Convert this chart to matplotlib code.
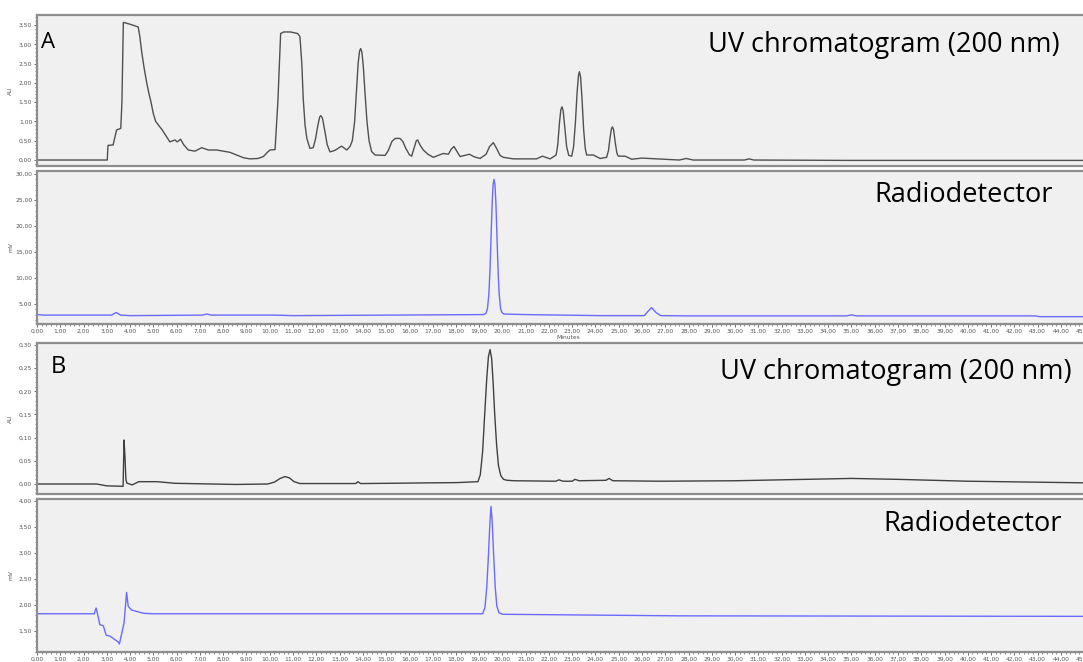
import matplotlib
matplotlib.use("Agg")
import matplotlib.pyplot as plt
from matplotlib.ticker import MultipleLocator, FuncFormatter

# ---------------- data (time in minutes, signal) ----------------
uvA_t = [0, 2.95, 3.02, 3.05, 3.27, 3.35, 3.42, 3.6, 3.65, 3.71, 4.0, 4.35, 4.42, 4.5, 4.6, 4.7,
         4.8, 4.9, 5.0, 5.1, 5.25, 5.36, 5.55, 5.71, 5.85, 5.93, 6.03, 6.17, 6.3, 6.5, 6.79, 7.08,
         7.36, 7.72, 8.29, 8.87, 9.15, 9.5, 9.73, 9.9, 10.01, 10.23, 10.35, 10.47, 10.6, 10.9,
         11.2, 11.3, 11.38, 11.44, 11.52, 11.6, 11.73, 11.87, 11.97, 12.07, 12.15, 12.2, 12.27,
         12.37, 12.47, 12.59, 12.8, 13.09, 13.31, 13.45, 13.55, 13.65, 13.73, 13.8, 13.86, 13.91,
         13.96, 14.02, 14.1, 14.18, 14.27, 14.38, 14.53, 14.96, 15.1, 15.25, 15.39, 15.6, 15.72,
         15.85, 16.0, 16.1, 16.2, 16.3, 16.36, 16.45, 16.6, 16.8, 17.03, 17.46, 17.68, 17.8,
         17.92, 18.02, 18.18, 18.58, 18.8, 19.04, 19.3, 19.45, 19.61, 19.75, 19.9, 20.04, 20.47,
         21.47, 21.72, 22.05, 22.31, 22.38, 22.45, 22.51, 22.56, 22.61, 22.68, 22.76, 22.85,
         22.98, 23.06, 23.14, 23.21, 23.27, 23.31, 23.36, 23.42, 23.49, 23.56, 23.62, 23.91,
         24.2, 24.48, 24.56, 24.63, 24.69, 24.73, 24.78, 24.85, 24.92, 24.98, 25.27, 25.56,
         25.99, 27.6, 27.9, 28.2, 30.4, 30.6, 30.8, 35.0, 45.7]
uvA_v = [0, 0, 0.0, 0.38, 0.39, 0.6, 0.78, 0.82, 1.5, 3.57, 3.52, 3.45, 3.2, 2.8, 2.4, 2.05,
         1.75, 1.5, 1.2, 1.0, 0.88, 0.8, 0.62, 0.47, 0.5, 0.52, 0.47, 0.54, 0.4, 0.26, 0.23, 0.32,
         0.26, 0.26, 0.2, 0.06, 0.03, 0.04, 0.09, 0.2, 0.26, 0.27, 1.5, 3.28, 3.32, 3.32,
         3.28, 3.2, 2.5, 1.6, 0.9, 0.55, 0.3, 0.32, 0.55, 0.9, 1.12, 1.15, 1.08,
         0.75, 0.4, 0.21, 0.25, 0.36, 0.26, 0.35, 0.5, 1.0, 1.8, 2.5, 2.82, 2.89,
         2.8, 2.45, 1.7, 1.0, 0.5, 0.22, 0.13, 0.12, 0.25, 0.48, 0.56, 0.56, 0.48,
         0.3, 0.14, 0.1, 0.3, 0.5, 0.52, 0.4, 0.26, 0.15, 0.07, 0.17, 0.15, 0.28,
         0.35, 0.25, 0.09, 0.15, 0.08, 0.04, 0.15, 0.35, 0.45, 0.3, 0.12, 0.07, 0.03,
         0.03, 0.1, 0.03, 0.13, 0.4, 0.95, 1.3, 1.38, 1.28, 0.85, 0.35, 0.12,
         0.1, 0.35, 1.0, 1.75, 2.2, 2.29, 2.15, 1.6, 0.8, 0.3, 0.13, 0.13,
         0.04, 0.07, 0.25, 0.6, 0.82, 0.86, 0.78, 0.45, 0.18, 0.1, 0.1, 0.02,
         0.05, 0.0, 0.04, 0.0, 0.0, 0.03, 0.0, -0.01, -0.01]

radA_t = [0, 0.3, 3.2, 3.4, 3.6, 4.0, 7.1, 7.3, 7.5, 10.2, 11.0, 19.2, 19.3, 19.36, 19.42, 19.47,
          19.52, 19.56, 19.60, 19.64, 19.68, 19.72, 19.76, 19.81, 19.86, 19.92, 19.98, 20.07,
          21.0, 24.2, 26.1, 26.25, 26.41, 26.6, 26.8, 28.0, 34.8, 35.0, 35.2, 42.9, 43.1, 45.7]
radA_v = [3.0, 2.9, 2.9, 3.4, 2.9, 2.8, 2.9, 3.1, 2.9, 2.9, 2.8, 3.0, 3.3, 4.2, 7.0, 12.0,
          19.0, 24.5, 28.0, 29.0, 28.0, 24.5, 19.0, 12.0, 7.0, 4.2, 3.4, 3.1,
          3.0, 2.8, 2.8, 3.6, 4.35, 3.4, 2.8, 2.75, 2.75, 2.95, 2.75, 2.75, 2.6, 2.6]

uvB_t = [0, 2.56, 3.0, 3.7, 3.74, 3.78, 3.82, 3.86, 4.09, 4.37, 5.16, 5.93, 8.54, 9.92, 10.2,
         10.45, 10.66, 10.85, 11.05, 11.3, 13.7, 13.79, 13.9, 14.07, 18.05, 18.95, 19.05, 19.15,
         19.25, 19.33, 19.40, 19.47, 19.54, 19.60, 19.67, 19.75, 19.83, 19.93, 20.05, 20.2,
         20.51, 22.3, 22.43, 22.6, 23.0, 23.12, 23.3, 24.45, 24.58, 24.75, 26.77, 30.0, 33.0,
         35.0, 37.0, 40.0, 45.7]
uvB_v = [0.0, 0.0, -0.004, -0.005, 0.095, 0.06, 0.01, 0.002, -0.002, 0.005, 0.005, 0.0015,
         -0.001, 0.0, 0.004, 0.012, 0.016, 0.013, 0.005, 0.001, 0.001, 0.005, 0.001, 0.001,
         0.003, 0.005, 0.02, 0.07, 0.16, 0.23, 0.275, 0.29, 0.27, 0.22, 0.15, 0.085, 0.04,
         0.018, 0.01, 0.008, 0.007, 0.006, 0.009, 0.006, 0.006, 0.01, 0.007, 0.008, 0.012,
         0.007, 0.006, 0.007, 0.01, 0.012, 0.01, 0.006, 0.002]

radB_t = [0, 2.46, 2.54, 2.63, 2.7, 2.85, 2.97, 3.14, 3.49, 3.54, 3.74, 3.85, 3.92, 4.07, 4.57,
          4.93, 19.15, 19.25, 19.33, 19.4, 19.46, 19.51, 19.56, 19.62, 19.69, 19.76, 19.85,
          20.0, 27.6, 45.7]
radB_v = [1.83, 1.83, 1.94, 1.77, 1.62, 1.60, 1.42, 1.40, 1.29, 1.25, 1.65, 2.24, 1.97, 1.90,
          1.84, 1.83, 1.83, 1.95, 2.35, 2.95, 3.55, 3.89, 3.6, 3.0, 2.35, 1.98, 1.85,
          1.82, 1.79, 1.78]

panel_labels = ["A", "B"]
uv_title = "UV chromatogram (200 nm)"
rad_title = "Radiodetector"

# ---------------- layout ----------------
W, H = 1083, 662
fig = plt.figure(figsize=(W / 100, H / 100), dpi=100)
fig.patch.set_facecolor("white")

left_px, right_px = 37, 1100
xmax = (right_px - left_px) / 23.27


def add_ax(top_px, bot_px):
    return fig.add_axes([left_px / W, 1 - bot_px / H, (right_px - left_px) / W, (bot_px - top_px) / H])


fmt = FuncFormatter(lambda v, p: f"{v:.2f}".replace(".", ","))


def style(ax, ylim, ymaj, ymin_, ylabel, xlabels):
    ax.set_facecolor("#f0f0f0")
    ax.set_xlim(0, xmax)
    ax.set_ylim(*ylim)
    ax.xaxis.set_major_locator(MultipleLocator(1))
    ax.xaxis.set_minor_locator(MultipleLocator(0.2))
    ax.yaxis.set_major_locator(MultipleLocator(ymaj))
    ax.yaxis.set_minor_locator(MultipleLocator(ymin_))
    ax.xaxis.set_major_formatter(fmt)
    ax.yaxis.set_major_formatter(fmt)
    ax.tick_params(axis="both", which="major", labelsize=4.3, colors="#555555", length=2.5,
                   width=0.6, pad=1)
    ax.tick_params(axis="both", which="minor", length=1.5, width=0.5, colors="#555555")
    if not xlabels:
        ax.tick_params(axis="x", which="both", labelbottom=False, length=0)
    for s in ax.spines.values():
        s.set_color("#8e8e8e")
        s.set_linewidth(1.6)
    ax.set_ylabel(ylabel, fontsize=4.3, color="#555555", labelpad=2)
    ax.yaxis.set_label_coords(-24 / (right_px - left_px), 0.5)


axA1 = add_ax(15, 166)
axA2 = add_ax(171, 324)
axB1 = add_ax(343, 494)
axB2 = add_ax(499, 652)

axA1.plot(uvA_t, uvA_v, color="#505050", lw=1.0)
style(axA1, (-0.155, 3.76), 0.5, 0.1, "AU", False)

axA2.plot(radA_t, radA_v, color="#6a6aff", lw=1.0)
style(axA2, (1.19, 30.6), 5, 1, "mV", True)
axA2.set_xlabel("Minutes", fontsize=4.3, color="#555555", labelpad=1)

axB1.plot(uvB_t, uvB_v, color="#404040", lw=1.0)
style(axB1, (-0.0216, 0.3043), 0.05, 0.01, "AU", False)

axB2.plot(radB_t, radB_v, color="#6a6aff", lw=1.0)
style(axB2, (1.097, 4.03), 0.5, 0.1, "mV", True)


def ftext(xp, yp, s, size, ha):
    fig.text(xp / W, 1 - yp / H, s, fontsize=size, ha=ha, va="center", family="Open Sans",
             color="black")


ftext(41, 43, panel_labels[0], 16, "left")
ftext(51, 367, panel_labels[1], 17, "left")
ftext(1060, 45, uv_title, 19.5, "right")
ftext(1053, 195, rad_title, 19.5, "right")
ftext(1072, 372, uv_title, 19.5, "right")
ftext(1062, 524, rad_title, 19.5, "right")

fig.savefig("out.png", dpi=100)
